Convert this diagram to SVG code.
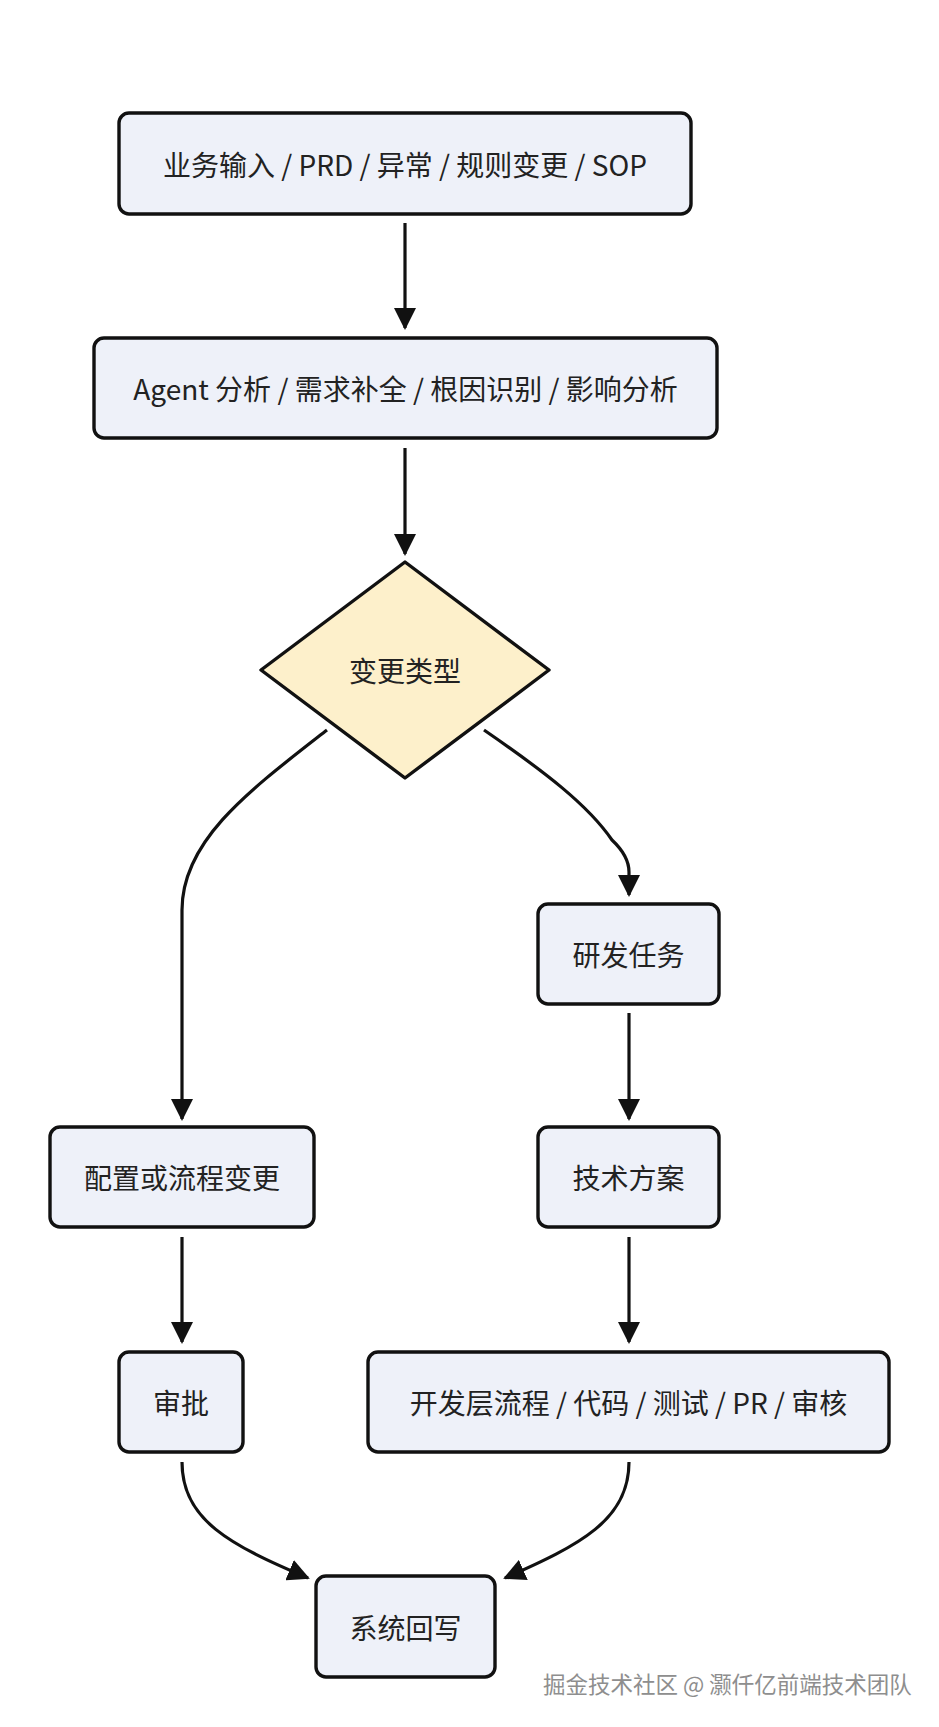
<svg xmlns="http://www.w3.org/2000/svg" width="939" height="1727" viewBox="0 0 939 1727">
  <defs>
    <style>
      .box { fill: #EEF1F9; stroke: #111; stroke-width: 3.4; }
      .dia { fill: #FDF0CB; stroke: #111; stroke-width: 3.4; stroke-linejoin: round; }
      .lbl { font-family: "Noto Sans CJK SC", "Noto Sans", sans-serif; font-size: 28px; fill: #222; text-anchor: middle; }
      .edge { fill: none; stroke: #111; stroke-width: 3.2; }
      .wm { font-family: "Noto Sans CJK SC", sans-serif; font-size: 22.5px; fill: #8e8e8e; stroke: #fff; stroke-width: 2; paint-order: stroke; }
    </style>
    <marker id="arrow" viewBox="0 0 22 22" refX="20" refY="11" markerWidth="22" markerHeight="22" markerUnits="userSpaceOnUse" orient="auto">
      <path d="M0,0 L22,11 L0,22 z" fill="#111"/>
    </marker>
  </defs>
  <rect width="939" height="1727" fill="#ffffff"/>

  <g id="connectors">
    <path class="edge" marker-end="url(#arrow)" d="M405,223 L405,328"/>
    <path class="edge" marker-end="url(#arrow)" d="M405,448 L405,554"/>
    <path class="edge" marker-end="url(#arrow)" d="M327,730 C250,790 182,840 182,910 L182,1119"/>
    <path class="edge" marker-end="url(#arrow)" d="M484,730 C545,772 588,805 612,840 Q629,856 629,872 L629,895"/>
    <path class="edge" marker-end="url(#arrow)" d="M629,1013 L629,1119"/>
    <path class="edge" marker-end="url(#arrow)" d="M182,1237 L182,1342"/>
    <path class="edge" marker-end="url(#arrow)" d="M629,1237 L629,1342"/>
    <path class="edge" marker-end="url(#arrow)" d="M182,1462 C182,1520 230,1545 308,1578"/>
    <path class="edge" marker-end="url(#arrow)" d="M629,1462 C629,1520 580,1545 505,1578"/>
  </g>

  <g id="n1">
    <rect class="box" x="119" y="113" width="572" height="101" rx="10"/>
    <text class="lbl" x="405" y="176">业务输入 / PRD / 异常 / 规则变更 / SOP</text>
  </g>
  <g id="n2">
    <rect class="box" x="94" y="338" width="623" height="100" rx="10"/>
    <text class="lbl" x="405.5" y="400">Agent 分析 / 需求补全 / 根因识别 / 影响分析</text>
  </g>
  <g id="n3">
    <polygon class="dia" points="405,562 549,670 405,778 261,670"/>
    <text class="lbl" x="405" y="682">变更类型</text>
  </g>
  <g id="n4">
    <rect class="box" x="538" y="904" width="181" height="100" rx="10"/>
    <text class="lbl" x="628.5" y="966">研发任务</text>
  </g>
  <g id="n5">
    <rect class="box" x="50" y="1127" width="264" height="100" rx="10"/>
    <text class="lbl" x="182" y="1189">配置或流程变更</text>
  </g>
  <g id="n6">
    <rect class="box" x="538" y="1127" width="181" height="100" rx="10"/>
    <text class="lbl" x="628.5" y="1189">技术方案</text>
  </g>
  <g id="n7">
    <rect class="box" x="119" y="1352" width="124" height="100" rx="10"/>
    <text class="lbl" x="181" y="1414">审批</text>
  </g>
  <g id="n8">
    <rect class="box" x="368" y="1352" width="521" height="100" rx="10"/>
    <text class="lbl" x="628.5" y="1414">开发层流程 / 代码 / 测试 / PR / 审核</text>
  </g>
  <g id="n9">
    <rect class="box" x="316" y="1576" width="179" height="101" rx="10"/>
    <text class="lbl" x="405.5" y="1639">系统回写</text>
  </g>

  <text class="wm" x="543" y="1693">掘金技术社区 @ 灏仟亿前端技术团队</text>
</svg>
